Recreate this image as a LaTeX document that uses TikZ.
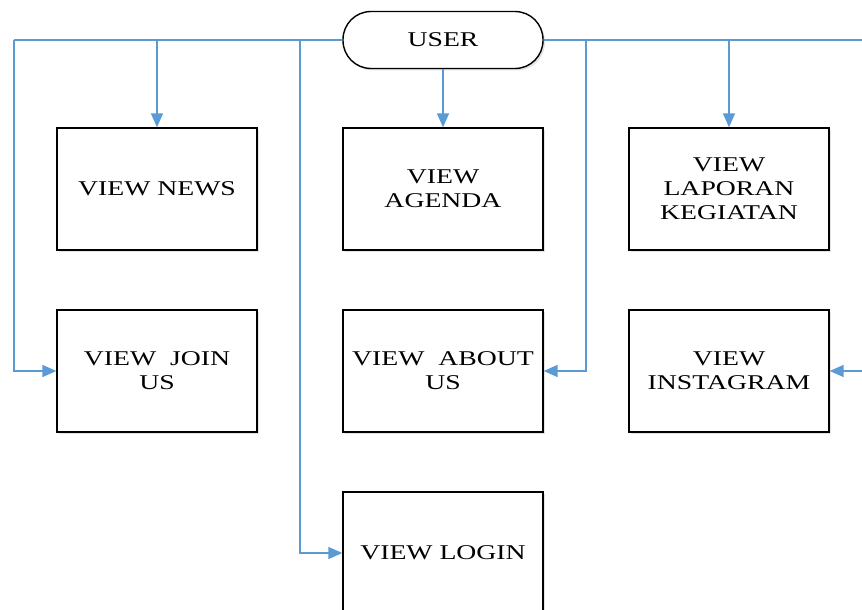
\documentclass[tikz,border=0pt]{standalone}
\usepackage{fontspec}
\setmainfont{Liberation Serif}[FakeStretch=1.32]
\usetikzlibrary{arrows.meta,shadows}
\definecolor{lineblue}{HTML}{5B9BD5}
\begin{document}
\begin{tikzpicture}[x=1pt,y=-1pt,
  box/.style={draw=black,line width=1.4pt,fill=white,minimum width=200pt,minimum height=122pt,
    align=center,inner sep=0pt,font=\fontsize{21}{24}\selectfont,
    drop shadow={shadow xshift=2pt,shadow yshift=-2pt,fill=black!18,opacity=0.6}},
  term/.style={draw=black,line width=1.4pt,fill=white,minimum width=200pt,minimum height=57pt,
    rounded corners=28pt,inner sep=0pt,font=\fontsize{21}{24}\selectfont,
    drop shadow={shadow xshift=2pt,shadow yshift=-2pt,fill=black!18,opacity=0.6}},
  conn/.style={draw=lineblue,line width=1.7pt},
  arr/.style={conn,-{Triangle[length=14pt,width=12pt]}}]
\useasboundingbox (0,0) rectangle (862,610);
\clip (0,0) rectangle (862,610);
\fill[white] (0,0) rectangle (862,610);
\node[term] (user) at (443,40) {USER};
\node[box] (news) at (157,189) {VIEW NEWS};
\node[box] (agenda) at (443,189) {VIEW\\AGENDA};
\node[box] (lap) at (729,189) {VIEW\\LAPORAN\\KEGIATAN};
\node[box] (join) at (157,371) {VIEW\ \ JOIN\\US};
\node[box] (about) at (443,371) {VIEW\ \ ABOUT\\US};
\node[box] (insta) at (729,371) {VIEW\\INSTAGRAM};
\node[box] (login) at (443,553) {VIEW LOGIN};
\coordinate (L) at (14,40);
\coordinate (LL) at (300,40);
\coordinate (RA) at (586,40);
\coordinate (R) at (862,40);
\coordinate (RI) at (862,371);
\draw[conn] (user.west) -- (L);
\draw[conn] (user.east) -- (R);
\draw[arr] (L) |- (join.west);
\draw[arr] (news.north |- user.west) -- (news.north);
\draw[arr] (LL) |- (login.west);
\draw[arr] (user.south) -- (agenda.north);
\draw[arr] (RA) |- (about.east);
\draw[arr] (lap.north |- user.east) -- (lap.north);
\draw[arr] (RI) -- (insta.east);
\end{tikzpicture}
\end{document}
